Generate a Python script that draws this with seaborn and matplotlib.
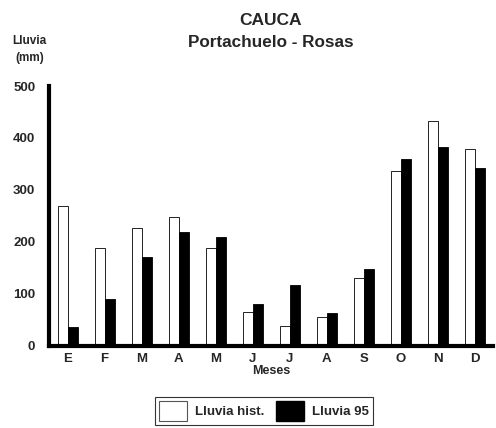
import matplotlib
matplotlib.use("Agg")
import matplotlib.pyplot as plt
from matplotlib.patches import Patch
from matplotlib.ticker import FixedLocator
import pandas as pd
import seaborn as sns

meses = ["E", "F", "M", "A", "M", "J", "J", "A", "S", "O", "N", "D"]
lluvia_hist = [269, 188, 227, 247, 188, 65, 39, 55, 131, 337, 433, 379]
lluvia_95 = [36, 90, 171, 219, 210, 81, 117, 64, 147, 360, 382, 343]
series = ["Lluvia hist.", "Lluvia 95"]

sns.set_style("white")
plt.rcParams["font.family"] = ["Liberation Sans", "DejaVu Sans"]
plt.rcParams["font.weight"] = "bold"

# long table for seaborn, month index keeps the repeated letters apart
rows = []
for i, m in enumerate(meses):
    rows.append({"mes": i, "serie": series[0], "valor": lluvia_hist[i]})
    rows.append({"mes": i, "serie": series[1], "valor": lluvia_95[i]})
df = pd.DataFrame(rows)

fig = plt.figure(figsize=(4.96, 4.28), dpi=100)
ax = fig.add_axes([0.099, 0.192, 0.895, 0.607])

sns.barplot(data=df, x="mes", y="valor", hue="serie", hue_order=series,
            palette=["white", "black"], width=0.54, edgecolor="black",
            linewidth=0.6, saturation=1, legend=False, ax=ax)

ax.set_ylim(0, 500)
ax.set_xlim(-0.5, 11.5)
ax.set_yticks([0, 100, 200, 300, 400, 500])
ax.set_xticks(range(12))
ax.set_xticklabels(meses, fontsize=9.5, fontweight="bold")
ax.tick_params(axis="x", which="major", length=0, pad=5)
ax.xaxis.set_minor_locator(FixedLocator([i + 0.5 for i in range(-1, 12)]))
ax.tick_params(axis="x", which="minor", length=4, width=0.8, direction="inout", color="black")
ax.tick_params(axis="y", length=0, pad=10, labelsize=9.5)
for lab in ax.get_yticklabels():
    lab.set_fontweight("bold")

sns.despine(ax=ax, top=True, right=True)
ax.spines["left"].set_linewidth(3)
ax.spines["bottom"].set_linewidth(3)
ax.spines["left"].set_color("black")
ax.spines["bottom"].set_color("black")

ax.set_xlabel("Meses", fontsize=9, fontweight="bold", labelpad=0)
ax.set_ylabel("")

fig.text(0.545, 0.953, "CAUCA", ha="center", va="center", fontsize=12.5, fontweight="bold")
fig.text(0.545, 0.9, "Portachuelo - Rosas", ha="center", va="center", fontsize=12.3, fontweight="bold")
fig.text(0.059, 0.904, "Lluvia", ha="center", va="center", fontsize=8.5, fontweight="bold")
fig.text(0.059, 0.864, "(mm)", ha="center", va="center", fontsize=8.5, fontweight="bold")

handles = [Patch(facecolor="white", edgecolor="#555555", linewidth=0.8, label=series[0]),
           Patch(facecolor="black", edgecolor="black", label=series[1])]
leg = fig.legend(handles=handles, loc="center", bbox_to_anchor=(0.532, 0.04), ncol=2,
                 frameon=True, fancybox=False, edgecolor="black", fontsize=9.5,
                 handlelength=2.1, handleheight=2.0, columnspacing=0.9, handletextpad=0.6,
                 borderpad=0.3)
leg.get_frame().set_linewidth(0.8)
for t in leg.get_texts():
    t.set_fontweight("bold")

fig.savefig("out.png", dpi=100)
